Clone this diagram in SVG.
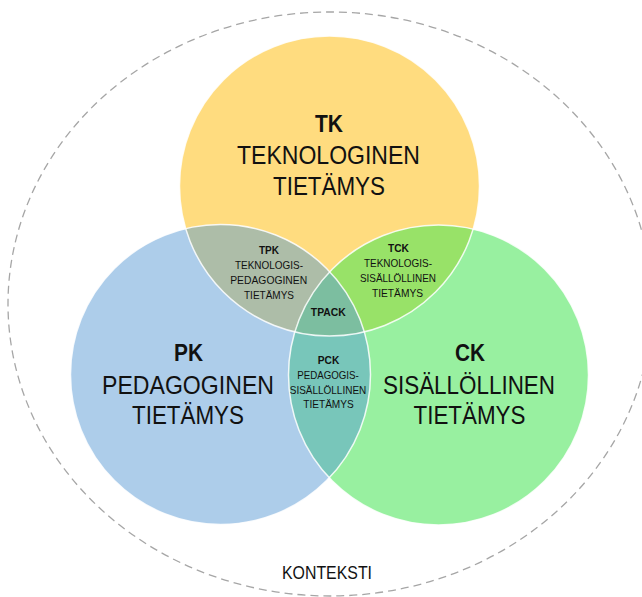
<svg xmlns="http://www.w3.org/2000/svg" width="642" height="597" viewBox="0 0 642 597">
  <style>
    .t { font-family: "Liberation Sans", Arial, sans-serif; fill: #111; text-anchor: middle; }
    .big { font-size: 25px; }
    .bigb { font-size: 24px; font-weight: bold; }
    .sm { font-size: 10.5px; }
    .smb { font-size: 10.5px; font-weight: bold; }
    .edge { fill: none; stroke: #ffffff; stroke-width: 1.5; stroke-opacity: 0.85; }
  </style>
  <defs>
    <clipPath id="cY"><circle cx="329.5" cy="186" r="150"/></clipPath>
    <clipPath id="cB"><circle cx="220.5" cy="374.5" r="150"/></clipPath>
  </defs>

  <g id="context">
    <ellipse cx="330" cy="304" rx="322" ry="292" fill="none" stroke="#a6a6a6" stroke-width="1.3" stroke-dasharray="8 5"/>
    <text class="t" x="327" y="579" font-size="19" textLength="90" lengthAdjust="spacingAndGlyphs">KONTEKSTI</text>
  </g>

  <g id="tk">
    <circle cx="329.5" cy="186" r="150" fill="#FFDC7F"/>
  </g>
  <g id="pk">
    <circle cx="220.5" cy="374.5" r="150" fill="#ADCDEA"/>
  </g>
  <g id="ck">
    <circle cx="438.5" cy="375" r="150" fill="#98F0A0"/>
  </g>

  <g id="tpk">
    <circle cx="220.5" cy="374.5" r="150" fill="#ADBDA8" clip-path="url(#cY)"/>
  </g>
  <g id="tck">
    <circle cx="438.5" cy="375" r="150" fill="#98E268" clip-path="url(#cY)"/>
  </g>
  <g id="pck">
    <circle cx="438.5" cy="375" r="150" fill="#78C6BA" clip-path="url(#cB)"/>
  </g>
  <g id="tpack">
    <g clip-path="url(#cY)">
      <circle cx="438.5" cy="375" r="150" fill="#7CBEA0" clip-path="url(#cB)"/>
    </g>
  </g>

  <g id="edges">
    <circle class="edge" cx="329.5" cy="186" r="150"/>
    <circle class="edge" cx="220.5" cy="374.5" r="150"/>
    <circle class="edge" cx="438.5" cy="375" r="150"/>
  </g>

  <g id="connectors"/>

  <g id="labels">
    <text class="t bigb" x="329" y="132" textLength="28" lengthAdjust="spacingAndGlyphs">TK</text>
    <text class="t big" x="328.5" y="164" textLength="183" lengthAdjust="spacingAndGlyphs">TEKNOLOGINEN</text>
    <text class="t big" x="329" y="195" textLength="112" lengthAdjust="spacingAndGlyphs">TIETÄMYS</text>

    <text class="t bigb" x="188.5" y="361" textLength="29" lengthAdjust="spacingAndGlyphs">PK</text>
    <text class="t big" x="188" y="394" textLength="172" lengthAdjust="spacingAndGlyphs">PEDAGOGINEN</text>
    <text class="t big" x="188" y="424" textLength="112" lengthAdjust="spacingAndGlyphs">TIETÄMYS</text>

    <text class="t bigb" x="470" y="361" textLength="30" lengthAdjust="spacingAndGlyphs">CK</text>
    <text class="t big" x="469" y="394" textLength="172" lengthAdjust="spacingAndGlyphs">SISÄLLÖLLINEN</text>
    <text class="t big" x="469.5" y="424" textLength="112" lengthAdjust="spacingAndGlyphs">TIETÄMYS</text>

    <text class="t smb" x="269" y="254" textLength="20" lengthAdjust="spacingAndGlyphs">TPK</text>
    <text class="t sm" x="269" y="268.5" textLength="68" lengthAdjust="spacingAndGlyphs">TEKNOLOGIS-</text>
    <text class="t sm" x="268.7" y="284" textLength="77" lengthAdjust="spacingAndGlyphs">PEDAGOGINEN</text>
    <text class="t sm" x="269" y="299" textLength="50" lengthAdjust="spacingAndGlyphs">TIETÄMYS</text>

    <text class="t smb" x="398.5" y="251.5" textLength="21" lengthAdjust="spacingAndGlyphs">TCK</text>
    <text class="t sm" x="398" y="266.5" textLength="68" lengthAdjust="spacingAndGlyphs">TEKNOLOGIS-</text>
    <text class="t sm" x="398" y="282" textLength="76" lengthAdjust="spacingAndGlyphs">SISÄLLÖLLINEN</text>
    <text class="t sm" x="397.5" y="296.5" textLength="51" lengthAdjust="spacingAndGlyphs">TIETÄMYS</text>

    <text class="t smb" x="328.3" y="316" textLength="35" lengthAdjust="spacingAndGlyphs">TPACK</text>

    <text class="t smb" x="328.5" y="363.5" textLength="21.5" lengthAdjust="spacingAndGlyphs">PCK</text>
    <text class="t sm" x="328" y="378.8" textLength="61.5" lengthAdjust="spacingAndGlyphs">PEDAGOGIS-</text>
    <text class="t sm" x="328" y="393.8" textLength="76.5" lengthAdjust="spacingAndGlyphs">SISÄLLÖLLINEN</text>
    <text class="t sm" x="328.5" y="408" textLength="50.5" lengthAdjust="spacingAndGlyphs">TIETÄMYS</text>
  </g>
</svg>
